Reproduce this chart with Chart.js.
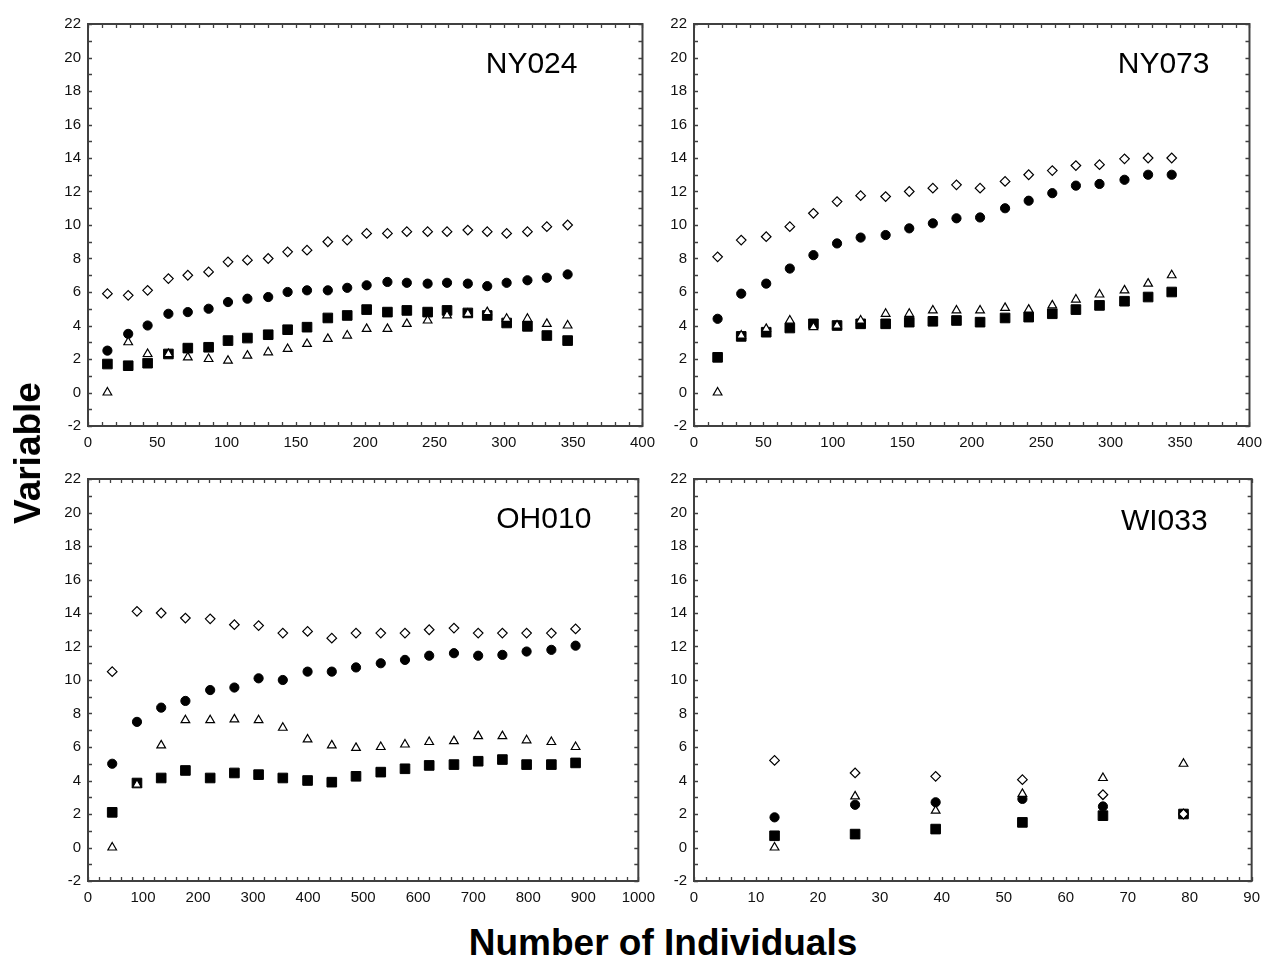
<!DOCTYPE html>
<html>
<head>
<meta charset="utf-8">
<title>Variable vs Number of Individuals</title>
<script src="https://cdn.jsdelivr.net/npm/chart.js@4.4.0/dist/chart.umd.min.js"></script>
<style>
  body { margin: 0; background: #fff; width: 1269px; height: 964px; position: relative; overflow: hidden;
         font-family: "Liberation Sans", Arial, sans-serif; }
  canvas { position: absolute; }
  .title { position: absolute; font-weight: bold; font-size: 37px; color: #000; white-space: nowrap;
           transform: translate(-50%, -50%); }
  #ytitle { left: 28px; top: 453px; transform: translate(-50%, -50%) rotate(-90deg); }
  #xtitle { left: 663px; top: 943px; }
</style>
</head>
<body>
<canvas id="ny024" width="633" height="448" style="left:30px;top:8px"></canvas>
<canvas id="ny073" width="634" height="448" style="left:636px;top:8px"></canvas>
<canvas id="oh010" width="633" height="448" style="left:30px;top:463px"></canvas>
<canvas id="wi033" width="632" height="448" style="left:636px;top:463px"></canvas>
<div class="title" id="ytitle">Variable</div>
<div class="title" id="xtitle">Number of Individuals</div>
<script>
// y axis shared by all panels
const yTicks = { min: -2, max: 22, step: 2 };

// NY024
const ny024X = [14, 29, 43, 58, 72, 87, 101, 115, 130, 144, 158, 173, 187, 201, 216, 230, 245, 259, 274, 288, 302, 317, 331, 346];
const ny024Diamond = [5.9, 5.8, 6.1, 6.8, 7.0, 7.2, 7.8, 7.9, 8.0, 8.4, 8.5, 9.0, 9.1, 9.5, 9.5, 9.6, 9.6, 9.6, 9.7, 9.6, 9.5, 9.6, 9.9, 10.0];
const ny024Circle = [2.5, 3.5, 4.0, 4.7, 4.8, 5.0, 5.4, 5.6, 5.7, 6.0, 6.1, 6.1, 6.25, 6.4, 6.6, 6.55, 6.5, 6.55, 6.5, 6.35, 6.55, 6.7, 6.85, 7.05];
const ny024Triangle = [0, 3.0, 2.3, 2.3, 2.1, 2.0, 1.9, 2.2, 2.4, 2.6, 2.9, 3.2, 3.4, 3.8, 3.8, 4.1, 4.3, 4.6, 4.7, 4.8, 4.4, 4.4, 4.1, 4.0];
const ny024Square = [1.7, 1.6, 1.75, 2.3, 2.65, 2.7, 3.1, 3.25, 3.45, 3.75, 3.9, 4.45, 4.6, 4.95, 4.8, 4.9, 4.8, 4.9, 4.75, 4.6, 4.15, 3.95, 3.4, 3.1];

// NY073
const ny073X = [17, 34, 52, 69, 86, 103, 120, 138, 155, 172, 189, 206, 224, 241, 258, 275, 292, 310, 327, 344];
const ny073Diamond = [8.1, 9.1, 9.3, 9.9, 10.7, 11.4, 11.75, 11.7, 12.0, 12.2, 12.4, 12.2, 12.6, 13.0, 13.25, 13.55, 13.6, 13.95, 14.0, 14.0];
const ny073Circle = [4.4, 5.9, 6.5, 7.4, 8.2, 8.9, 9.25, 9.4, 9.8, 10.1, 10.4, 10.45, 11.0, 11.45, 11.9, 12.35, 12.45, 12.7, 13.0, 13.0];
const ny073Triangle = [0, 3.4, 3.8, 4.3, 3.9, 4.0, 4.3, 4.7, 4.7, 4.9, 4.9, 4.9, 5.05, 4.95, 5.2, 5.55, 5.85, 6.1, 6.5, 7.0];
const ny073Square = [2.1, 3.35, 3.6, 3.85, 4.1, 4.0, 4.1, 4.1, 4.2, 4.25, 4.3, 4.2, 4.45, 4.5, 4.7, 4.95, 5.2, 5.45, 5.7, 6.0];

// OH010
const oh010X = [44, 89, 133, 177, 222, 266, 310, 354, 399, 443, 487, 532, 576, 620, 665, 709, 753, 797, 842, 886];
const oh010Diamond = [10.5, 14.1, 14.0, 13.7, 13.65, 13.3, 13.25, 12.8, 12.9, 12.5, 12.8, 12.8, 12.8, 13.0, 13.1, 12.8, 12.8, 12.8, 12.8, 13.05];
const oh010Circle = [5.0, 7.5, 8.35, 8.75, 9.4, 9.55, 10.1, 10.0, 10.5, 10.5, 10.75, 11.0, 11.2, 11.45, 11.6, 11.45, 11.5, 11.7, 11.8, 12.05];
const oh010Triangle = [0, 3.75, 6.1, 7.6, 7.6, 7.65, 7.6, 7.15, 6.45, 6.1, 5.95, 6.0, 6.15, 6.3, 6.35, 6.65, 6.65, 6.4, 6.3, 6.0];
const oh010Square = [2.1, 3.85, 4.15, 4.6, 4.15, 4.45, 4.35, 4.15, 4.0, 3.9, 4.25, 4.5, 4.7, 4.9, 4.95, 5.15, 5.25, 4.95, 4.95, 5.05];

// WI033
const wi033X = [13, 26, 39, 53, 66, 79];
const wi033Diamond = [5.2, 4.45, 4.25, 4.05, 3.15, 2.0];
const wi033Circle = [1.8, 2.55, 2.7, 2.9, 2.45, 2.0];
const wi033Triangle = [0, 3.05, 2.2, 3.2, 4.15, 5.0];
const wi033Square = [0.7, 0.8, 1.1, 1.5, 1.9, 2.0];

// marker look, drawn bottom to top: square, circle, triangle, diamond
const markerStyles = [
  { pointStyle: 'rectRot', pointRadius: 4.8, backgroundColor: '#fff', borderColor: '#000', borderWidth: 1.2 },
  { pointStyle: 'triangle', pointRadius: 5, backgroundColor: '#fff', borderColor: '#000', borderWidth: 1.2 },
  { pointStyle: 'circle', pointRadius: 4.6, backgroundColor: '#000', borderColor: '#000', borderWidth: 1 },
  { pointStyle: 'rect', pointRadius: 6.8, backgroundColor: '#000', borderColor: '#000', borderWidth: 1 }
];

// box round the plot area with short inward ticks, plus the panel name
const framePlugin = {
  id: 'frame',
  afterDraw(chart, args, opts) {
    const { ctx, chartArea: a, scales: { x, y } } = chart;
    ctx.save();
    ctx.strokeStyle = '#404040';
    ctx.lineWidth = 1.3;
    ctx.beginPath();
    for (let v = x.min; v <= x.max + 1e-9; v += opts.xMinor) {
      const px = Math.round(x.getPixelForValue(v)) + 0.5;
      ctx.moveTo(px, a.bottom); ctx.lineTo(px, a.bottom - 4);
      ctx.moveTo(px, a.top); ctx.lineTo(px, a.top + 4);
    }
    for (let v = y.min; v <= y.max + 1e-9; v += 1) {
      const py = Math.round(y.getPixelForValue(v)) + 0.5;
      ctx.moveTo(a.left, py); ctx.lineTo(a.left + 4, py);
      ctx.moveTo(a.right, py); ctx.lineTo(a.right - 4, py);
    }
    ctx.stroke();
    ctx.lineWidth = 2;
    ctx.strokeRect(a.left, a.top, a.width, a.height);
    ctx.font = '30px "Liberation Sans", Arial, sans-serif';
    ctx.fillStyle = '#000';
    ctx.textAlign = 'right';
    ctx.textBaseline = 'middle';
    ctx.fillText(opts.label, a.right - opts.labelRight, a.top + opts.labelTop);
    ctx.restore();
  }
};

function makePanel(id, xs, series, xMax, xStep, xMinor, label, labelRight, labelTop, padRight) {
  const tickFont = { family: '"Liberation Sans", Arial, sans-serif', size: 15 };
  new Chart(document.getElementById(id), {
    type: 'scatter',
    data: {
      datasets: markerStyles.map((st, i) => Object.assign({
        data: xs.map((x, j) => ({ x: x, y: series[i][j] }))
      }, st))
    },
    options: {
      responsive: false,
      animation: false,
      devicePixelRatio: 1,
      layout: { padding: { top: 10, right: padRight, bottom: 0, left: 0 } },
      plugins: {
        legend: { display: false },
        tooltip: { enabled: false },
        frame: { xMinor: xMinor, label: label, labelRight: labelRight, labelTop: labelTop }
      },
      scales: {
        x: {
          type: 'linear', min: 0, max: xMax,
          ticks: { stepSize: xStep, padding: 8, color: '#111', font: tickFont, maxRotation: 0, autoSkip: false,
                   callback: v => String(v) },
          grid: { display: false, drawTicks: false },
          border: { display: false },
          afterFit: s => { s.height = 30; }
        },
        y: {
          min: yTicks.min, max: yTicks.max,
          ticks: { stepSize: yTicks.step, padding: 7, color: '#111', font: tickFont, autoSkip: false,
                   callback: v => String(v) },
          grid: { display: false, drawTicks: false },
          border: { display: false },
          afterFit: s => { s.width = 58; }
        }
      }
    },
    plugins: [framePlugin]
  });
}

makePanel('ny024', ny024X, [ny024Diamond, ny024Triangle, ny024Circle, ny024Square], 400, 50, 10, 'NY024', 65, 41, 18);
makePanel('ny073', ny073X, [ny073Diamond, ny073Triangle, ny073Circle, ny073Square], 400, 50, 10, 'NY073', 40, 41, 18);
makePanel('oh010', oh010X, [oh010Diamond, oh010Triangle, oh010Circle, oh010Square], 1000, 100, 20, 'OH010', 47, 41, 22);
makePanel('wi033', wi033X, [wi033Diamond, wi033Triangle, wi033Circle, wi033Square], 90, 10, 2, 'WI033', 44, 43, 14);
</script>
</body>
</html>
